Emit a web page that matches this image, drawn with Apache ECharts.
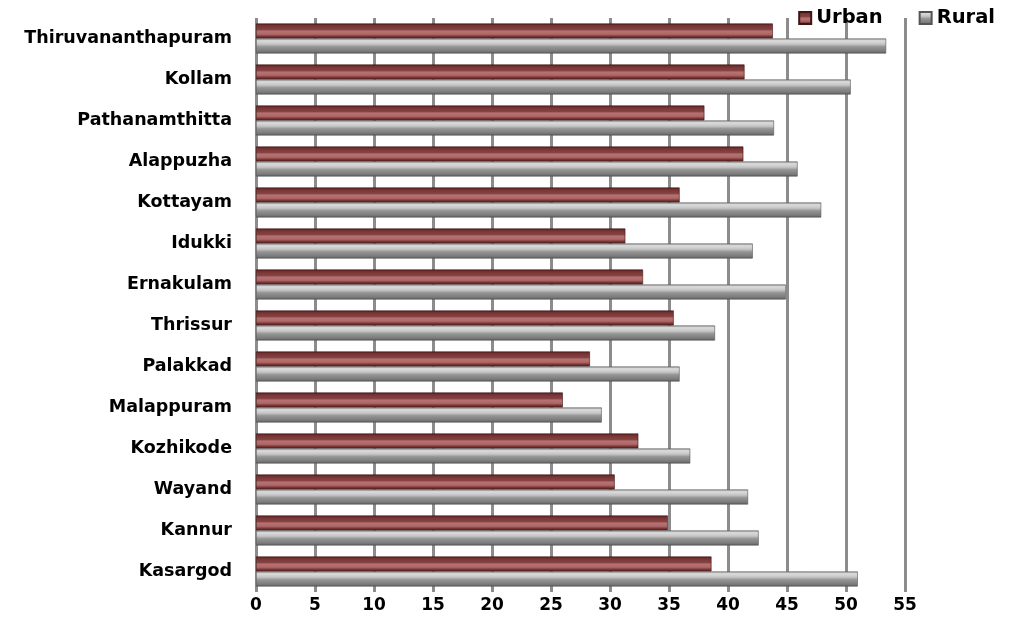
<!DOCTYPE html>
<html>
<head>
<meta charset="utf-8">
<script src="https://cdn.jsdelivr.net/npm/echarts@6/dist/echarts.min.js"></script>
<style>
  html, body { margin: 0; padding: 0; background: #fff; }
  #chart { width: 1009px; height: 643px; }
</style>
</head>
<body>
<div id="chart"></div>
<script>
// Districts of Kerala, listed south-to-north from the top down
const districts = [
  'Thiruvananthapuram', 'Kollam', 'Pathanamthitta', 'Alappuzha', 'Kottayam',
  'Idukki', 'Ernakulam', 'Thrissur', 'Palakkad', 'Malappuram',
  'Kozhikode', 'Wayand', 'Kannur', 'Kasargod'
];
const urban = [43.8, 41.4, 38.0, 41.3, 35.9, 31.3, 32.8, 35.4, 28.3, 26.0, 32.4, 30.4, 34.9, 38.6];
const rural = [53.4, 50.4, 43.9, 45.9, 47.9, 42.1, 44.9, 38.9, 35.9, 29.3, 36.8, 41.7, 42.6, 51.0];
const xTicks = { min: 0, max: 55, interval: 5 };

const FONT = '"DejaVu Sans", sans-serif';

// bevelled bar fills: dark edges with a lighter band through the bar
const urbanFill = new echarts.graphic.LinearGradient(0, 0, 0, 1, [
  { offset: 0, color: '#5a2222' },
  { offset: 0.15, color: '#763434' },
  { offset: 0.42, color: '#874444' },
  { offset: 0.5, color: '#b87272' },
  { offset: 0.72, color: '#ad6767' },
  { offset: 0.86, color: '#7a3636' },
  { offset: 1, color: '#521e1e' }
]);
const ruralFill = new echarts.graphic.LinearGradient(0, 0, 0, 1, [
  { offset: 0, color: '#9a9a9a' },
  { offset: 0.15, color: '#dcdcdc' },
  { offset: 0.38, color: '#c4c4c4' },
  { offset: 0.55, color: '#959595' },
  { offset: 0.85, color: '#7a7a7a' },
  { offset: 1, color: '#5a5a5a' }
]);

const chart = echarts.init(document.getElementById('chart'), null, { renderer: 'canvas' });
chart.setOption({
  animation: false,
  backgroundColor: '#ffffff',
  legend: {
    data: ['Urban', 'Rural'],
    right: 9,
    top: 3,
    icon: 'rect',
    itemWidth: 12,
    itemHeight: 12,
    itemGap: 36,
    textStyle: { fontFamily: FONT, fontWeight: 'bold', fontSize: 19.5, color: '#000' }
  },
  grid: { left: 256, right: 104, top: 18, bottom: 51, containLabel: false },
  xAxis: {
    type: 'value',
    min: xTicks.min,
    max: xTicks.max,
    interval: xTicks.interval,
    axisLine: { show: false },
    axisTick: { show: false },
    axisLabel: { fontFamily: FONT, fontWeight: 'bold', fontSize: 17, color: '#000', margin: 5 },
    splitLine: { show: true, lineStyle: { color: '#8c8c8c', width: 3 } }
  },
  yAxis: {
    type: 'category',
    data: districts,
    inverse: true,
    axisLine: { show: false },
    axisTick: { show: false },
    axisLabel: { fontFamily: FONT, fontWeight: 'bold', fontSize: 17.5, color: '#000', margin: 24 },
    splitLine: { show: false }
  },
  series: [
    {
      name: 'Urban',
      type: 'bar',
      data: urban,
      barWidth: 15,
      barGap: '0%',
      itemStyle: { color: urbanFill, borderColor: '#3e1414', borderWidth: 0.6 }
    },
    {
      name: 'Rural',
      type: 'bar',
      data: rural,
      barWidth: 15,
      barGap: '0%',
      itemStyle: { color: ruralFill, borderColor: '#555555', borderWidth: 0.6 }
    }
  ]
});
</script>
</body>
</html>
